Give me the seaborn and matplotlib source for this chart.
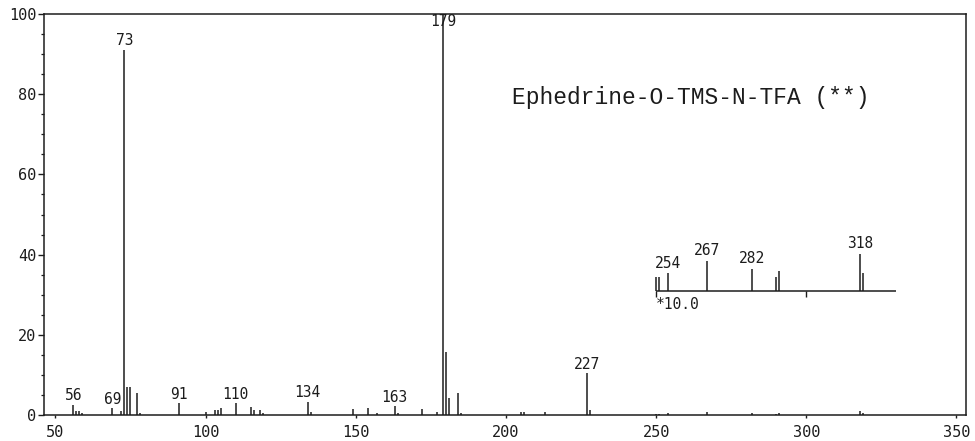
import numpy as np
import pandas as pd
import matplotlib
matplotlib.use("Agg")
import matplotlib.pyplot as plt
from matplotlib.ticker import MultipleLocator
import seaborn as sns

# Mass spectrum of Ephedrine-O-TMS-N-TFA: m/z and relative abundance (%)
mz = [56, 57, 58, 59, 69, 72, 73, 74, 75, 77, 78,
      91, 100, 103, 104, 105, 110, 115, 116, 118, 119,
      134, 135, 149, 154, 157, 163, 164, 172, 177,
      179, 180, 181, 184, 185, 205, 206, 213, 227, 228,
      250, 251, 254, 267, 282, 290, 291, 318, 319]
abundance = [2.6, 1.0, 1.1, 0.5, 1.7, 1.0, 91.0, 7.0, 6.9, 5.5, 0.4,
             2.9, 0.7, 1.2, 1.3, 1.8, 2.9, 2.1, 1.3, 1.3, 0.4,
             3.3, 0.7, 1.5, 1.8, 0.4, 2.2, 0.5, 1.6, 0.8,
             100.0, 15.6, 4.2, 5.6, 0.6, 0.7, 0.7, 0.7, 10.4, 1.2,
             0.36, 0.37, 0.46, 0.77, 0.57, 0.37, 0.52, 0.94, 0.46]

# Peaks annotated with their m/z
main_labels = [56, 69, 73, 91, 110, 134, 163, 179, 227]
inset_labels = [254, 267, 282, 318]

# Magnified trace of the high-mass region
zoom_factor = 10.0
zoom_start, zoom_end = 250, 330
zoom_baseline = 30.8

x_ticks = [50, 100, 150, 200, 250, 300, 350]
y_ticks = [0, 20, 40, 60, 80, 100]
title = "Ephedrine-O-TMS-N-TFA (**)"

spec = pd.DataFrame({"mz": mz, "abundance": abundance})

sns.set_theme(style="white")
plt.rcParams["font.family"] = ["DejaVu Sans Mono", "DejaVu Sans"]

ink = "#1c1c1c"
fig = plt.figure(figsize=(9.75, 4.41), dpi=100)
ax = fig.add_axes([44 / 975, 1 - 415 / 441, (966 - 44) / 975, (415 - 14) / 441])

# main spectrum
ax.vlines(spec["mz"], 0, spec["abundance"], color=ink, lw=1.1)

for m in main_labels:
    a = spec.loc[spec["mz"] == m, "abundance"].iloc[0]
    y = min(a + 0.4, 96.3)
    ax.text(m, y, str(m), ha="center", va="bottom", fontsize=10.5, color=ink)

# x10 magnified section
hi = spec[spec["mz"] >= zoom_start]
ax.hlines(zoom_baseline, zoom_start, zoom_end, color=ink, lw=1.1)
ax.vlines([zoom_start, 300], zoom_baseline - 1.3, zoom_baseline, color=ink, lw=1.0)
ax.vlines(hi["mz"], zoom_baseline, zoom_baseline + hi["abundance"] * zoom_factor,
          color=ink, lw=1.1)
for m in inset_labels:
    a = spec.loc[spec["mz"] == m, "abundance"].iloc[0]
    ax.text(m, zoom_baseline + a * zoom_factor + 0.6, str(m), ha="center",
            va="bottom", fontsize=10.5, color=ink)
ax.text(zoom_start, zoom_baseline - 3.3, f"*{zoom_factor:.1f}", ha="left",
        va="center", fontsize=10.5, color=ink)

ax.text(261.6, 79.3, title, ha="center", va="center", fontsize=16.5,
        family=["Liberation Mono", "DejaVu Sans Mono"], color=ink)

ax.set_xlim(46.2, 353.2)
ax.set_ylim(0, 100)
ax.set_xticks(x_ticks)
ax.set_yticks(y_ticks)
ax.yaxis.set_minor_locator(MultipleLocator(5))
ax.tick_params(axis="x", which="major", direction="out", length=2.5, width=1.0,
               pad=5, labelsize=11, colors=ink, bottom=True)
ax.tick_params(axis="y", which="major", direction="out", length=4.5, width=1.0,
               pad=1, labelsize=11, colors=ink, left=True)
ax.tick_params(axis="y", which="minor", direction="out", length=2, width=0.9,
               left=True, colors=ink)
for s in ax.spines.values():
    s.set_visible(True)
    s.set_color(ink)
    s.set_linewidth(1.1)
ax.set_xlabel("")
ax.set_ylabel("")
ax.grid(False)

fig.savefig("out.png", dpi=100, facecolor="white")
